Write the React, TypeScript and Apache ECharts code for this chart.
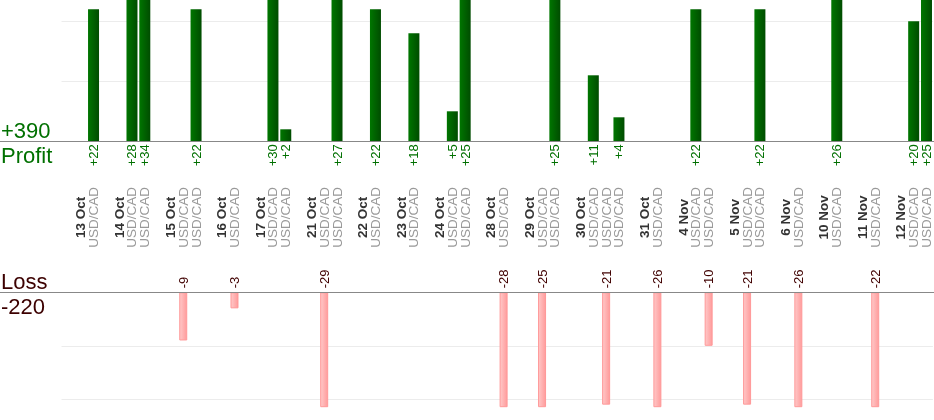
import React, { useEffect, useRef } from 'react';
import * as echarts from 'echarts';

const dates = ['13 Oct', '14 Oct', '15 Oct', '16 Oct', '17 Oct', '21 Oct', '22 Oct', '23 Oct', '24 Oct', '28 Oct', '29 Oct', '30 Oct', '31 Oct', '4 Nov', '5 Nov', '6 Nov', '10 Nov', '11 Nov', '12 Nov'];
const tradesPerDate = [1, 2, 2, 1, 2, 2, 1, 1, 2, 1, 2, 3, 1, 2, 2, 1, 1, 1, 2];
const pnl = [22, 28, 34, -9, 22, -3, 30, 2, -29, 27, 22, 18, 5, 25, -28, -25, 25, 11, -21, 4, -26, 22, -10, -21, 22, -26, 26, -22, 20, 25];
const pair = 'USD/CAD';
const profitGridValues = [10, 20];
const lossGridValues = [-10, -20];
const profitMax = 23.55;
const lossMin = -21.38;

const FONT = '"Liberation Sans", Arial, Helvetica, sans-serif';

type Slot = { kind: 'gap' | 'date' | 'trade'; label: string; value: number | null };

function buildSlots(): Slot[] {
  const slots: Slot[] = [];
  let k = 0;
  dates.forEach((d, i) => {
    slots.push({ kind: 'gap', label: '', value: null });
    slots.push({ kind: 'date', label: d, value: null });
    for (let j = 0; j < tradesPerDate[i]; j++) {
      slots.push({ kind: 'trade', label: pair, value: pnl[k++] });
    }
  });
  return slots;
}

export default function App() {
  const ref = useRef<HTMLDivElement>(null);
  useEffect(() => {
    if (!ref.current) return;
    const chart = echarts.init(ref.current, undefined, { renderer: 'svg' });
    const slots = buildSlots();
    const categories = slots.map((_, i) => 's' + i);
    const profitData = slots.map((s) => (s.kind === 'trade' && (s.value as number) > 0 ? s.value : null));
    const lossData = slots.map((s) => (s.kind === 'trade' && (s.value as number) < 0 ? s.value : null));
    const totalProfit = pnl.filter((v) => v > 0).reduce((a, b) => a + b, 0);
    const totalLoss = pnl.filter((v) => v < 0).reduce((a, b) => a + b, 0);

    const gridLine = (vals: number[]) => ({
      silent: true,
      z: 1,
      symbol: 'none',
      label: { show: false },
      lineStyle: { color: '#ececec', type: 'solid', width: 1 },
      emphasis: { disabled: true },
      data: vals.map((v) => ({ yAxis: v })),
    });

    chart.setOption({
      animation: false,
      grid: [
        { left: 61.5, width: 871.4, top: 0, height: 141.3 },
        { left: 61.5, width: 871.4, top: 292.3, height: 114.4 },
      ],
      xAxis: [
        {
          type: 'category',
          gridIndex: 0,
          data: categories,
          axisLine: { show: false },
          axisTick: { show: false },
          splitLine: { show: false },
          axisLabel: {
            interval: 0,
            rotate: 90,
            margin: 76,
            align: 'center',
            verticalAlign: 'middle',
            fontFamily: FONT,
            formatter: (_v: string, i: number) => {
              const s = slots[i];
              if (!s || s.kind === 'gap') return '';
              return s.kind === 'date' ? `{d|${s.label}}` : `{p|${s.label}}`;
            },
            rich: {
              d: { fontWeight: 'bold', color: '#333333', fontSize: 13.5, fontFamily: FONT },
              p: { color: '#999999', fontSize: 13.5, fontFamily: FONT },
            },
          },
        },
        { type: 'category', gridIndex: 1, data: categories, show: false },
      ],
      yAxis: [
        { type: 'value', gridIndex: 0, min: 0, max: profitMax, show: false, splitLine: { show: false } },
        { type: 'value', gridIndex: 1, min: lossMin, max: 0, show: false, splitLine: { show: false } },
      ],
      series: [
        {
          type: 'bar',
          xAxisIndex: 0,
          yAxisIndex: 0,
          z: 3,
          data: profitData,
          barWidth: 11,
          itemStyle: {
            color: new echarts.graphic.LinearGradient(0, 0, 1, 0, [
              { offset: 0, color: '#007600' },
              { offset: 1, color: '#004c00' },
            ]),
          },
          label: {
            show: true,
            position: 'bottom',
            distance: 3,
            rotate: 90,
            align: 'right',
            verticalAlign: 'middle',
            color: '#007000',
            fontSize: 13,
            fontFamily: FONT,
            formatter: (p: any) => '+' + p.value,
          },
          markLine: gridLine(profitGridValues),
        },
        {
          type: 'bar',
          xAxisIndex: 1,
          yAxisIndex: 1,
          z: 3,
          data: lossData,
          barWidth: 8,
          itemStyle: {
            color: new echarts.graphic.LinearGradient(0, 0, 1, 0, [
              { offset: 0, color: '#ffc8c8' },
              { offset: 1, color: '#ff9c9c' },
            ]),
            borderColor: '#ff9999',
            borderWidth: 1,
          },
          label: {
            show: true,
            position: 'top',
            distance: 4,
            rotate: 90,
            align: 'left',
            verticalAlign: 'middle',
            color: '#400000',
            fontSize: 13,
            fontFamily: FONT,
            formatter: (p: any) => String(p.value),
          },
          markLine: gridLine(lossGridValues),
        },
      ],
      graphic: [
        { type: 'line', z: 10, shape: { x1: 0, y1: 141.5, x2: 934, y2: 141.5 }, style: { stroke: '#888888', lineWidth: 1 } },
        { type: 'line', z: 10, shape: { x1: 0, y1: 292.5, x2: 934, y2: 292.5 }, style: { stroke: '#888888', lineWidth: 1 } },
        { type: 'text', x: 1, y: 130, style: { text: '+' + totalProfit, fontSize: 22, fontFamily: FONT, fill: '#007000', verticalAlign: 'middle', align: 'left' } },
        { type: 'text', x: 1, y: 155, style: { text: 'Profit', fontSize: 22, fontFamily: FONT, fill: '#007000', verticalAlign: 'middle', align: 'left' } },
        { type: 'text', x: 1, y: 281, style: { text: 'Loss', fontSize: 22, fontFamily: FONT, fill: '#3c0000', verticalAlign: 'middle', align: 'left' } },
        { type: 'text', x: 1, y: 306.5, style: { text: String(totalLoss), fontSize: 22, fontFamily: FONT, fill: '#3c0000', verticalAlign: 'middle', align: 'left' } },
      ],
    });
    return () => chart.dispose();
  }, []);
  return <div ref={ref} style={{ position: 'fixed', left: 0, top: 0, width: 934, height: 420 }} />;
}
